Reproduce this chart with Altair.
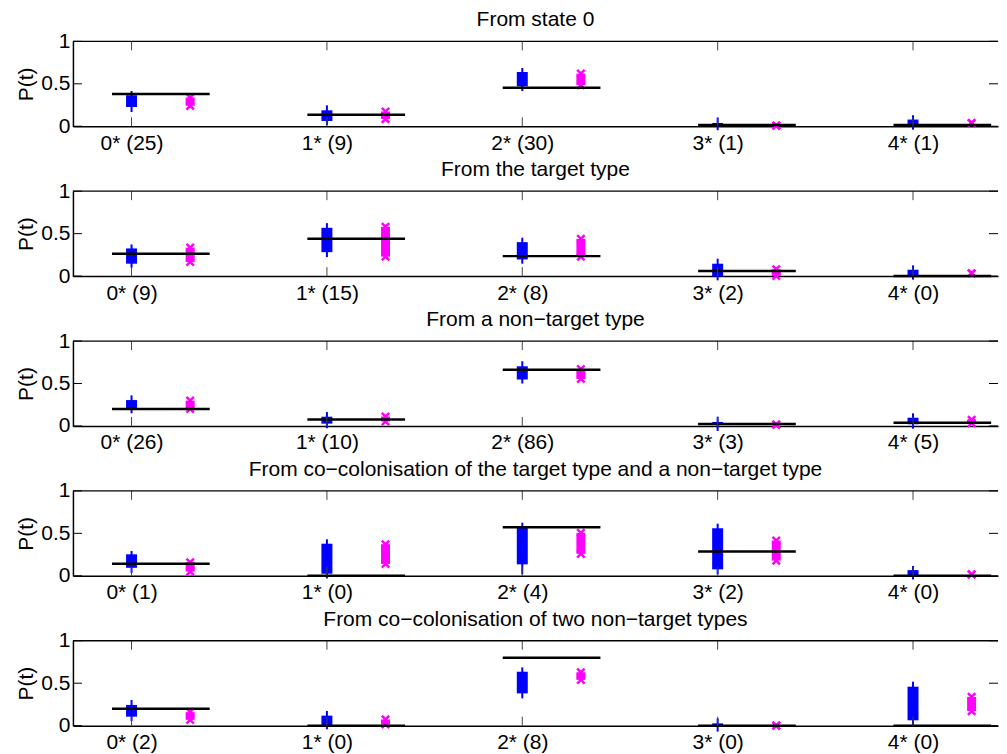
import altair as alt
import pandas as pd

# ---------------- data ----------------
categories = [0, 1, 2, 3, 4]
titles = [
    "From state 0",
    "From the target type",
    "From a non\u2212target type",
    "From co\u2212colonisation of the target type and a non\u2212target type",
    "From co\u2212colonisation of two non\u2212target types",
]
counts = [
    [25, 9, 30, 1, 1],
    [9, 15, 8, 2, 0],
    [26, 10, 86, 3, 5],
    [1, 0, 4, 2, 0],
    [2, 0, 8, 0, 0],
]
# blue "+" clouds: dense part (lo/hi) and full extent (min/max)
blue_lo = [
    [0.227, 0.062, 0.470, 0.008, 0.012],
    [0.146, 0.282, 0.196, -0.004, 0.005],
    [0.203, 0.027, 0.547, 0.012, 0.020],
    [0.094, 0.024, 0.135, 0.076, 0.005],
    [0.106, 0.000, 0.380, 0.000, 0.063],
]
blue_hi = [
    [0.365, 0.188, 0.639, 0.039, 0.079],
    [0.326, 0.569, 0.400, 0.146, 0.075],
    [0.305, 0.109, 0.703, 0.047, 0.097],
    [0.253, 0.378, 0.575, 0.560, 0.067],
    [0.244, 0.118, 0.635, 0.027, 0.459],
]
blue_min = [
    [0.168, 0.012, 0.415, -0.047, -0.040],
    [0.099, 0.224, 0.146, -0.050, -0.042],
    [0.149, -0.027, 0.500, -0.059, -0.032],
    [0.035, -0.031, 0.017, 0.017, -0.043],
    [0.055, -0.043, 0.321, -0.070, 0.000],
]
blue_max = [
    [0.415, 0.247, 0.686, 0.102, 0.130],
    [0.373, 0.624, 0.452, 0.205, 0.126],
    [0.360, 0.164, 0.762, 0.109, 0.149],
    [0.292, 0.430, 0.626, 0.614, 0.115],
    [0.302, 0.173, 0.686, 0.086, 0.518],
]
# magenta "x" clouds (marker centres)
mag_lo = [
    [0.241, 0.085, 0.485, 0.008, 0.038],
    [0.167, 0.230, 0.230, 0.002, 0.034],
    [0.202, 0.053, 0.553, 0.015, 0.033],
    [0.050, 0.140, 0.259, 0.179, 0.016],
    [0.068, 0.014, 0.539, 0.000, 0.171],
]
mag_hi = [
    [0.339, 0.174, 0.620, 0.008, 0.038],
    [0.335, 0.580, 0.438, 0.081, 0.034],
    [0.299, 0.111, 0.670, 0.015, 0.073],
    [0.159, 0.372, 0.506, 0.416, 0.016],
    [0.159, 0.073, 0.629, 0.000, 0.339],
]
y_ticks = [0, 0.5, 1]

# ---------------- styling ----------------
W, H = 926, 85
FONT = "Liberation Sans"
FS = 21
BLUE = "#0000FF"
MAG = "#FF00FF"
xscale = alt.Scale(domain=[-0.3, 4.435], nice=False, zero=False)
yscale = alt.Scale(domain=[0, 1], nice=False, zero=False)
X_SHAPE = "M-1,-1L1,1M1,-1L-1,1"


def panel(i):
    total = sum(counts[i])
    df = pd.DataFrame({
        "cat": categories,
        "obs": [c / total for c in counts[i]],
        "blo": blue_lo[i], "bhi": blue_hi[i],
        "bmin": blue_min[i], "bmax": blue_max[i],
        "mlo": mag_lo[i], "mhi": mag_hi[i],
    })
    labels = ",".join("'%d* (%d)'" % (k, c) for k, c in zip(categories, counts[i]))
    base = alt.Chart(df).transform_calculate(
        x1="datum.cat - 0.1", x2="datum.cat + 0.4", xm="datum.cat + 0.3"
    )
    xaxis = alt.Axis(values=categories, labelExpr="[" + labels + "][datum.value]",
                     title=None, ticks=False, grid=False, domainColor="black",
                     domainWidth=1.5, labelFont=FONT, labelFontSize=FS,
                     labelColor="black", labelPadding=6, labelFlush=False,
                     labelOverlap=False)
    yaxis = alt.Axis(values=y_ticks, format="~g", title="P(t)", titleFont=FONT,
                     titleFontSize=FS, titleFontWeight="normal", titleColor="black",
                     titlePadding=4, labelPadding=3, ticks=False, grid=False,
                     domainColor="black", domainWidth=1.5, labelFont=FONT,
                     labelFontSize=FS, labelColor="black", labelFlush=False,
                     labelOverlap=False)

    def X(f):
        return alt.X(f, scale=xscale, axis=xaxis)

    def Y(f):
        return alt.Y(f, scale=yscale, axis=yaxis)

    blue_thin = base.mark_rule(color=BLUE, strokeWidth=2).encode(
        x=X("cat:Q"), y=Y("bmin:Q"), y2="bmax:Q")
    blue_thick = base.mark_rule(color=BLUE, strokeWidth=11, strokeCap="butt").encode(
        x=X("cat:Q"), y=Y("blo:Q"), y2="bhi:Q")
    mag_body = base.mark_rule(color=MAG, strokeWidth=9, strokeCap="butt").encode(
        x=X("xm:Q"), y=Y("mlo:Q"), y2="mhi:Q")
    mag_bot = base.mark_point(shape=X_SHAPE, size=55, strokeWidth=2.5, color=MAG,
                              filled=False, opacity=1).encode(
        x=X("xm:Q"), y=Y("mlo:Q"))
    mag_top = base.mark_point(shape=X_SHAPE, size=55, strokeWidth=2.5, color=MAG,
                              filled=False, opacity=1).encode(
        x=X("xm:Q"), y=Y("mhi:Q"))
    obs_line = base.mark_rule(color="black", strokeWidth=2.5).encode(
        x=X("x1:Q"), x2="x2:Q", y=Y("obs:Q"))

    xt = alt.Chart(pd.DataFrame({"t": categories}))
    xt_bot = xt.mark_rule(color="#444444", strokeWidth=1).encode(
        x=X("t:Q"), y=alt.value(H), y2=alt.value(H - 9))
    xt_top = xt.mark_rule(color="#444444", strokeWidth=1).encode(
        x=X("t:Q"), y=alt.value(0), y2=alt.value(9))
    yt = alt.Chart(pd.DataFrame({"v": y_ticks}))
    yt_left = yt.mark_rule(color="black", strokeWidth=1).encode(
        y=Y("v:Q"), x=alt.value(0), x2=alt.value(9))
    yt_right = yt.mark_rule(color="black", strokeWidth=1).encode(
        y=Y("v:Q"), x=alt.value(W - 9), x2=alt.value(W))
    top_border = alt.Chart(pd.DataFrame({"a": [0]})).mark_rule(
        color="black", strokeWidth=1.3).encode(
        x=alt.value(0), x2=alt.value(W), y=alt.value(0))

    return alt.layer(
        blue_thin, blue_thick, mag_body, mag_bot, mag_top, obs_line,
        xt_bot, xt_top, yt_left, yt_right, top_border,
    ).properties(
        width=W, height=H,
        title=alt.TitleParams(titles[i], font=FONT, fontSize=FS, fontWeight="normal",
                              color="black", anchor="middle", offset=0),
    )


chart = alt.vconcat(*[panel(i) for i in range(5)], spacing=6).configure_view(
    stroke=None
).properties(
    padding={"left": 7, "top": 1, "right": 0, "bottom": 0},
    background="white",
)

chart.save("out.html", embed_options={"renderer": "svg", "actions": False})
